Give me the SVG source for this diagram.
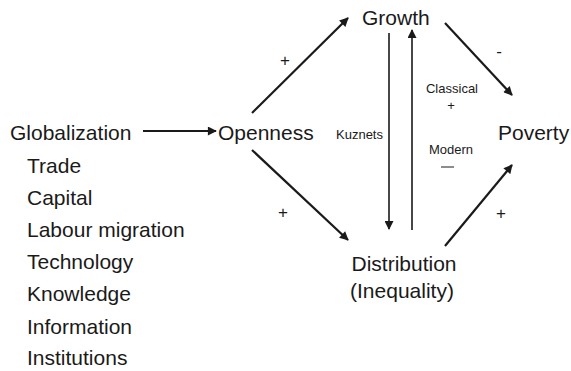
<svg xmlns="http://www.w3.org/2000/svg" width="571" height="371" viewBox="0 0 571 371">
  <defs>
    <marker id="head" viewBox="0 0 10 10" refX="9" refY="5" markerWidth="10" markerHeight="9" markerUnits="userSpaceOnUse" orient="auto">
      <path d="M0,0 L10,5 L0,10 z" fill="#1a1a1a"/>
    </marker>
    <style>
      text { font-family: "Liberation Sans", Arial, sans-serif; fill: #1a1a1a; }
      .big { font-size: 21px; }
      .small { font-size: 13px; }
      .sign { font-size: 17px; }
      .edge { stroke: #1a1a1a; stroke-width: 2.2; fill: none; marker-end: url(#head); }
      .vert { stroke: #1a1a1a; stroke-width: 1.6; fill: none; marker-end: url(#head); }
    </style>
  </defs>
  <rect width="571" height="371" fill="#ffffff"/>

  <g id="connectors">
    <line class="edge" x1="143" y1="131" x2="216" y2="131"/>
    <line class="edge" x1="252" y1="113" x2="348" y2="18"/>
    <line class="edge" x1="252" y1="150" x2="348" y2="240"/>
    <line class="edge" x1="445" y1="23" x2="512" y2="95"/>
    <line class="edge" x1="445" y1="246" x2="512" y2="165"/>
    <line class="vert" x1="389" y1="33" x2="389" y2="229"/>
    <line class="vert" x1="412" y1="230" x2="412" y2="30"/>
  </g>

  <g id="edge-labels">
    <text class="sign" x="285" y="66" text-anchor="middle">+</text>
    <text class="sign" x="283" y="218" text-anchor="middle">+</text>
    <text class="sign" x="499" y="57" text-anchor="middle">-</text>
    <text class="sign" x="501" y="219" text-anchor="middle">+</text>
    <text class="small" x="336" y="139">Kuznets</text>
    <text class="small" x="452" y="93" text-anchor="middle">Classical</text>
    <text class="small" x="451" y="110" text-anchor="middle">+</text>
    <text class="small" x="451" y="154" text-anchor="middle">Modern</text>
    <line x1="441" y1="167" x2="454" y2="167" stroke="#1a1a1a" stroke-width="1"/>
  </g>

  <g id="globalization">
    <text class="big" x="10" y="140">Globalization</text>
    <text class="big" x="27" y="173">Trade</text>
    <text class="big" x="27" y="205">Capital</text>
    <text class="big" x="27" y="237">Labour migration</text>
    <text class="big" x="27" y="269">Technology</text>
    <text class="big" x="27" y="301">Knowledge</text>
    <text class="big" x="27" y="334">Information</text>
    <text class="big" x="27" y="365">Institutions</text>
  </g>

  <g id="openness">
    <text class="big" x="218" y="140">Openness</text>
  </g>

  <g id="growth">
    <text class="big" x="362" y="25">Growth</text>
  </g>

  <g id="poverty">
    <text class="big" x="498" y="140">Poverty</text>
  </g>

  <g id="distribution">
    <text class="big" x="404" y="271" text-anchor="middle">Distribution</text>
    <text class="big" x="402" y="298" text-anchor="middle">(Inequality)</text>
  </g>
</svg>
